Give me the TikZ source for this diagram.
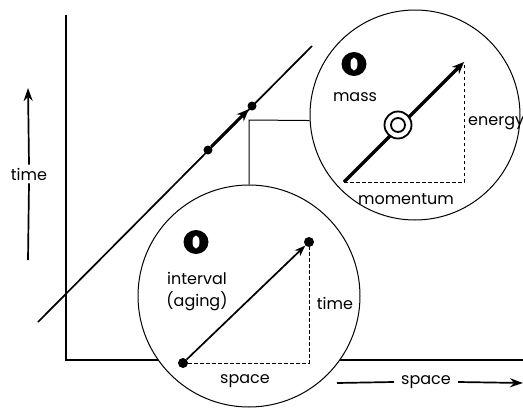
\documentclass[tikz,border=0pt]{standalone}
\usepackage{fontspec}
\setmainfont{Poppins}
\usetikzlibrary{arrows.meta,positioning,shapes.geometric}

\begin{document}
\begin{tikzpicture}[
    x=1pt, y=-1pt,
    txt/.style={font=\fontsize{16}{18}\selectfont, inner sep=2pt},
    axis/.style={line width=1.7pt},
    bubble/.style={draw, circle, line width=1pt, fill=white, inner sep=0pt},
    dot/.style={circle, fill=black, inner sep=0pt, minimum size=9pt},
    vec/.style={-{Stealth[length=11pt,width=8pt]}, line width=1.7pt},
    bigvec/.style={-{Stealth[length=12pt,width=10pt]}, line width=3.2pt},
    guide/.style={dash pattern=on 3.5pt off 2.5pt, line width=1pt},
    blob/.style={ellipse, fill=black, inner sep=0pt, minimum width=25pt, minimum height=24pt},
    slot/.style={ellipse, fill=white, inner sep=0pt, minimum width=7pt, minimum height=13pt}
]
\useasboundingbox (0,0) rectangle (523,410);

% axes
\coordinate (ax0) at (66,15);
\coordinate (ax1) at (66,360);
\coordinate (ax2) at (523,360);
\draw[axis] (ax0) -- (ax1) -- (ax2);

% axis labels
\node[txt, inner ysep=3pt] (tlab) at (29,174) {time};
\coordinate (ttip) at (28,88);
\coordinate (tend) at (28,260);
\draw[axis, -{Stealth[length=13pt,width=9pt]}] (tlab.north) -- (ttip);
\draw[axis] (tlab.south) -- (tend);
\node[txt, inner xsep=7pt] (slab) at (426,382) {space};
\coordinate (sbeg) at (337,383);
\coordinate (stip) at (523,383);
\draw[axis] (slab.west) -- (sbeg);
\draw[axis, -{Stealth[length=13pt,width=9pt]}] (slab.east) -- (stip);

% world line
\coordinate (wl0) at (38,322);
\coordinate (wl1) at (312,46);
\draw[line width=1.7pt] (wl0) -- (wl1);
\node[dot] (ev1) at (208,150) {};
\node[dot] (ev2) at (252,106) {};
\draw[bigvec, line width=3pt] (ev1) -- (ev2);

% magnifier circles
\node[bubble, minimum size=210pt] (hic) at (415,115) {};
\node[bubble, minimum size=222pt] (loc) at (249,296) {};
\coordinate (knee) at (249,120);
\draw[line width=1pt] (loc.north) -- (knee) -- (hic.183);

% lower circle: interval
\node[blob] (o1) at (196,242) {};
\node[slot] at (o1) {};
\node[txt] (ival) at (197,278) {interval};
\node[txt] (aging) at (197,301) {(aging)};
\node[dot, minimum size=10pt] (p0) at (183,363) {};
\node[dot, minimum size=10pt] (p1) at (309,242) {};
\coordinate (pc) at (309,363);
\draw[vec] (p0) -- (p1);
\draw[guide] (p0) -- (pc) -- (p1);
\node[txt] (ltime) at (335,303) {time};
\node[txt] (lspace) at (245,381) {space};

% upper circle: mass
\node[blob] (o2) at (354,64) {};
\node[slot] at (o2) {};
\node[txt] (mass) at (355,97) {mass};
\coordinate (q0) at (344,182);
\coordinate (q1) at (464,62);
\coordinate (qc) at (464,182);
\draw[bigvec] (q0) -- (q1);
\draw[guide] (q0) -- (qc) -- (q1);
\node[circle, draw, fill=white, line width=1.8pt, minimum size=27pt, inner sep=0pt] (rest) at (398,125) {};
\node[circle, draw, line width=1.8pt, minimum size=14pt, inner sep=0pt] at (rest) {};
\node[txt, anchor=west] (enrg) at (466,123) {energy};
\node[txt] (mom) at (406,199) {momentum};
\end{tikzpicture}
\end{document}
